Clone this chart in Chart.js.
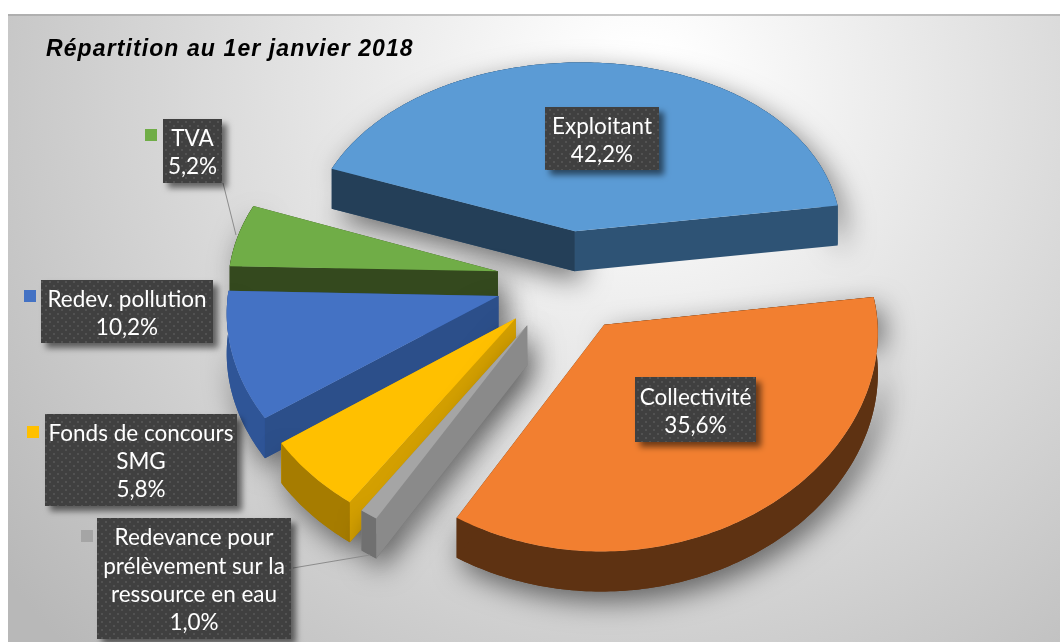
<!DOCTYPE html>
<html>
<head>
<meta charset="utf-8">
<title>Répartition au 1er janvier 2018</title>
<script src="https://cdn.jsdelivr.net/npm/chart.js@4"></script>
<style>
html, body { margin: 0; padding: 0; background: #fff; }
#wrap { position: relative; width: 1060px; height: 642px; overflow: hidden; }
</style>
</head>
<body>
<div id="wrap"><canvas id="pieChart" width="1060" height="642"></canvas></div>
<script>
const chartTitle = 'Répartition au 1er janvier 2018';
const categories = ['Exploitant', 'Collectivité', 'Redevance pour prélèvement sur la ressource en eau', 'Fonds de concours SMG', 'Redev. pollution', 'TVA'];
const values = [42.2, 35.6, 1.0, 5.8, 10.2, 5.2];
const labelLines = [['Exploitant'], ['Collectivité'], ['Redevance pour', 'prélèvement sur la', 'ressource en eau'], ['Fonds de concours', 'SMG'], ['Redev. pollution'], ['TVA']];

const topColors = ['#5B9BD5', '#F27F30', '#A5A5A5', '#FFC000', '#4472C4', '#70AD47'];
const nearWall = ['#2E5375', '#5E3212', '#8A8A8A', '#D4A000', '#2C4F8A', '#34491E'];
const farWall = ['#243F58', '#5E3212', '#8A8A8A', '#D4A000', '#2C4F8A', '#34491E'];
const arcWall = ['#2E5375', '#5E3212', '#707070', '#A67C00', '#2F5597', '#34491E'];

// label boxes: x, y, w, h, then the little colour key x, y, size
const labelBoxes = [
  [545, 107, 114, 63, 0, 0, 0],
  [635, 377, 121, 65, 0, 0, 0],
  [97, 518, 194, 121, 81, 530, 12],
  [45, 414, 192, 92, 27, 426, 12],
  [41, 280, 172, 63, 24, 290, 12],
  [163, 119, 59, 64, 145, 129, 12]
];
// leader lines from a box to its slice
const leaders = [[293, 568, 370, 555], [223, 183, 236, 235]];

const wallHeight = 40;

// tilted view of the pie plane, slightly stronger towards the viewer
function project(cx, cy, gx, gy) {
  return {
    x: cx + gx * (1 + 0.0002 * gy),
    y: cy + 0.735 * gy + 0.00027 * gy * gy - 0.015 * gx
  };
}

function fillPoly(ctx, pts, color) {
  ctx.fillStyle = color;
  ctx.beginPath();
  pts.forEach((p, i) => (i ? ctx.lineTo(p.x, p.y) : ctx.moveTo(p.x, p.y)));
  ctx.closePath();
  ctx.fill();
}

function dropped(pts) {
  return pts.map(p => ({ x: p.x, y: p.y + wallHeight }));
}

function wall(pts) {
  return pts.concat(dropped(pts).reverse());
}

function sliceOutline(arc, chart) {
  const cx = (chart.chartArea.left + chart.chartArea.right) / 2;
  const cy = (chart.chartArea.top + chart.chartArea.bottom) / 2;
  const mid = (arc.startAngle + arc.endAngle) / 2;
  const ox = arc.x - cx + Math.cos(mid) * arc.options.offset;
  const oy = arc.y - cy + Math.sin(mid) * arc.options.offset;
  const pts = [];
  const steps = Math.max(4, Math.ceil((arc.endAngle - arc.startAngle) * 60));
  for (let i = 0; i <= steps; i++) {
    const a = arc.startAngle + (arc.endAngle - arc.startAngle) * i / steps;
    pts.push(project(cx, cy, ox + Math.cos(a) * arc.outerRadius, oy + Math.sin(a) * arc.outerRadius));
  }
  return { apex: project(cx, cy, ox, oy), rim: pts, depth: oy, rimFacesBack: Math.sin(mid) < -0.5 };
}

const pie3d = {
  id: 'pie3d',
  beforeDraw(chart) {
    const ctx = chart.ctx;
    ctx.save();
    const bg = ctx.createRadialGradient(640, 90, 40, 640, 90, 800);
    bg.addColorStop(0, '#ffffff');
    bg.addColorStop(1, '#b8b8b8');
    ctx.fillStyle = bg;
    ctx.fillRect(8, 14, 1052, 628);
    ctx.fillStyle = 'rgba(150, 150, 150, 0.5)';
    ctx.fillRect(8, 14, 1052, 2);
    ctx.restore();
  },
  beforeDatasetsDraw(chart) {
    const ctx = chart.ctx;
    const arcs = chart.getDatasetMeta(0).data;
    const order = arcs.map((a, i) => ({ i, s: sliceOutline(a, chart) })).sort((a, b) => a.s.depth - b.s.depth);

    ctx.save();
    order.forEach(({ i, s }) => {
      const first = s.rim[0];
      const last = s.rim[s.rim.length - 1];
      const silhouette = [s.apex].concat(s.rim, dropped(s.rim).reverse(), dropped([s.apex]));

      ctx.shadowColor = 'rgba(0, 0, 0, 0.55)';
      ctx.shadowBlur = 28;
      ctx.shadowOffsetX = 6;
      ctx.shadowOffsetY = 10;
      fillPoly(ctx, silhouette, arcWall[i]);
      ctx.shadowColor = 'transparent';

      const startIsNear = first.y > last.y;
      const nearEdge = startIsNear ? first : last;
      const farEdge = startIsNear ? last : first;
      if (s.rimFacesBack) fillPoly(ctx, wall(s.rim), arcWall[i]);
      fillPoly(ctx, wall([s.apex, farEdge]), farWall[i]);
      if (!s.rimFacesBack) fillPoly(ctx, wall(s.rim), arcWall[i]);
      fillPoly(ctx, wall([s.apex, nearEdge]), nearWall[i]);
      fillPoly(ctx, [s.apex].concat(s.rim), topColors[i]);
    });
    ctx.restore();
    return false;
  },
  afterDraw(chart) {
    const ctx = chart.ctx;
    ctx.save();

    ctx.fillStyle = '#000';
    ctx.font = 'italic bold 23px "Liberation Sans"';
    ctx.letterSpacing = '1.1px';
    ctx.textAlign = 'left';
    ctx.textBaseline = 'alphabetic';
    ctx.fillText(chartTitle, 46, 56);
    ctx.letterSpacing = '0px';

    ctx.strokeStyle = '#8c8c8c';
    ctx.lineWidth = 1;
    leaders.forEach(l => {
      ctx.beginPath();
      ctx.moveTo(l[0], l[1]);
      ctx.lineTo(l[2], l[3]);
      ctx.stroke();
    });

    const dots = document.createElement('canvas');
    dots.width = 8;
    dots.height = 8;
    const dctx = dots.getContext('2d');
    dctx.fillStyle = '#404040';
    dctx.fillRect(0, 0, 8, 8);
    dctx.fillStyle = '#525252';
    dctx.fillRect(1, 1, 2, 2);
    dctx.fillRect(5, 5, 2, 2);
    const pattern = ctx.createPattern(dots, 'repeat');

    values.forEach((v, i) => {
      const b = labelBoxes[i];
      ctx.save();
      ctx.shadowColor = 'rgba(0, 0, 0, 0.55)';
      ctx.shadowBlur = 6;
      ctx.shadowOffsetX = 5;
      ctx.shadowOffsetY = 5;
      ctx.fillStyle = pattern;
      ctx.fillRect(b[0], b[1], b[2], b[3]);
      ctx.restore();

      if (b[6]) {
        ctx.fillStyle = topColors[i];
        ctx.fillRect(b[4], b[5], b[6], b[6]);
      }

      const lines = labelLines[i].concat(v.toFixed(1).replace('.', ',') + '%');
      const step = (b[3] - 8) / lines.length;
      ctx.fillStyle = '#fff';
      ctx.font = '22.5px Lato';
      ctx.textAlign = 'center';
      ctx.textBaseline = 'middle';
      lines.forEach((t, k) => {
        ctx.fillText(t, b[0] + b[2] / 2, b[1] + 6 + step * (k + 0.5));
      });
    });
    ctx.restore();
  }
};

new Chart(document.getElementById('pieChart'), {
  type: 'pie',
  data: {
    labels: categories,
    datasets: [{
      data: values,
      backgroundColor: topColors,
      borderWidth: 0,
      offset: 70,
      radius: 270
    }]
  },
  options: {
    responsive: false,
    animation: false,
    rotation: -68.6,
    layout: { padding: { left: 72, bottom: 80 } },
    plugins: {
      legend: { display: false },
      tooltip: { enabled: false }
    }
  },
  plugins: [pie3d]
});
</script>
</body>
</html>
